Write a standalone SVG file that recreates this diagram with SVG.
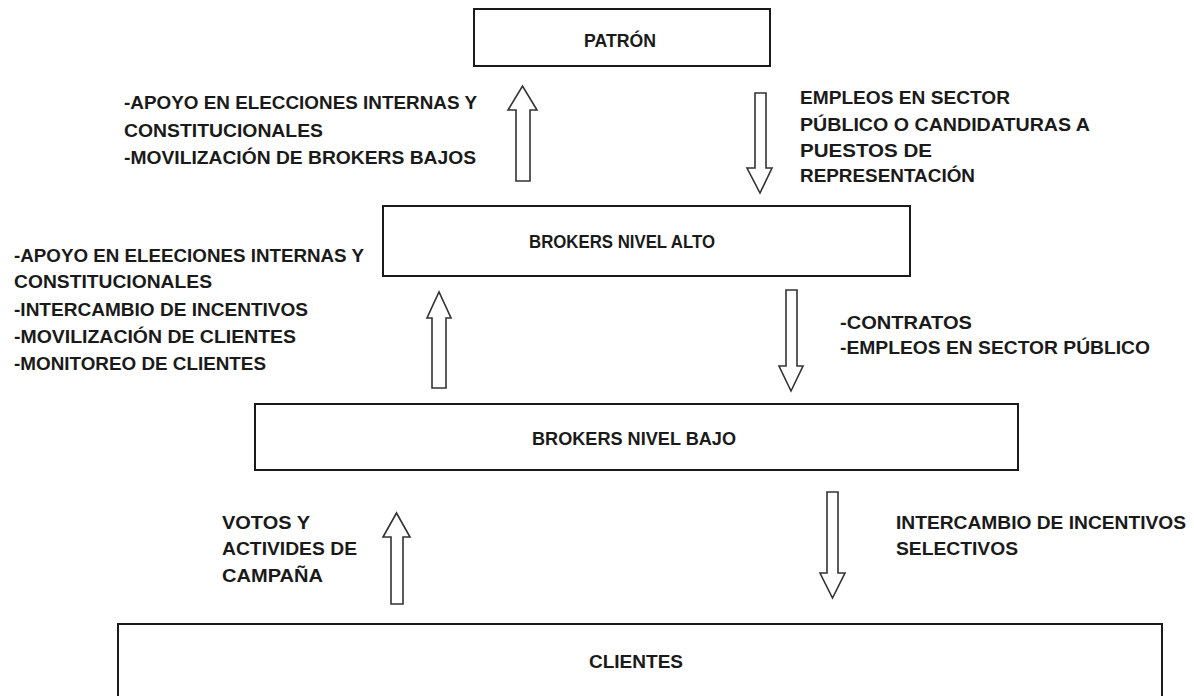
<svg xmlns="http://www.w3.org/2000/svg" width="1194" height="696" viewBox="0 0 1194 696">
<style>
.box{fill:#fff;stroke:#1a1a1a;stroke-width:2}
.arr{fill:#fff;stroke:#333;stroke-width:1.6;stroke-linejoin:miter}
.lbl{font-family:"Liberation Sans",Arial,sans-serif;font-weight:bold;font-size:19px;fill:#1a1a1a}
.bx{font-family:"Liberation Sans",Arial,sans-serif;font-weight:bold;font-size:19px;fill:#1a1a1a;text-anchor:middle}
</style>
<rect width="1194" height="696" fill="#fff"/>
<g id="patron"><rect class="box" x="474" y="9" width="296" height="57"/><text class="bx" x="620" y="47" textLength="72" lengthAdjust="spacingAndGlyphs">PATRÓN</text></g>
<g id="brokers-alto"><rect class="box" x="383" y="206" width="527" height="70"/><text class="bx" x="622" y="248" textLength="186" lengthAdjust="spacingAndGlyphs">BROKERS NIVEL ALTO</text></g>
<g id="brokers-bajo"><rect class="box" x="255" y="404" width="763" height="66"/><text class="bx" x="634" y="445" textLength="204" lengthAdjust="spacingAndGlyphs">BROKERS NIVEL BAJO</text></g>
<g id="clientes"><rect class="box" x="118" y="624" width="1044" height="80"/><text class="bx" x="636" y="668" textLength="94" lengthAdjust="spacingAndGlyphs">CLIENTES</text></g>
<g id="connectors">
<polygon class="arr" points="516,181 516,110 508,110 522.5,86 537,110 530,110 530,181 516,181"/>
<polygon class="arr" points="755,93 766,93 766,168 772,168 760,193 747,168 755,168"/>
<polygon class="arr" points="432,388 432,318 427,318 439,292 451,318 446,318 446,388"/>
<polygon class="arr" points="786,290 797,290 797,366 803,366 791,391 779,366 786,366"/>
<polygon class="arr" points="391,604 391,537 383,537 396.5,513 410,537 403,537 403,604"/>
<polygon class="arr" points="827,492 838,492 838,573 845,573 832.5,598 820,573 827,573"/>
</g>
<g id="labels">
<text class="lbl" x="124" y="109" textLength="353" lengthAdjust="spacingAndGlyphs">-APOYO EN ELECCIONES INTERNAS Y</text>
<text class="lbl" x="124" y="137" textLength="199" lengthAdjust="spacingAndGlyphs">CONSTITUCIONALES</text>
<text class="lbl" x="124" y="164" textLength="352" lengthAdjust="spacingAndGlyphs">-MOVILIZACIÓN DE BROKERS BAJOS</text>
<text class="lbl" x="800" y="104" textLength="210" lengthAdjust="spacingAndGlyphs">EMPLEOS EN SECTOR</text>
<text class="lbl" x="800" y="131" textLength="290" lengthAdjust="spacingAndGlyphs">PÚBLICO O CANDIDATURAS A</text>
<text class="lbl" x="800" y="157" textLength="132" lengthAdjust="spacingAndGlyphs">PUESTOS DE</text>
<text class="lbl" x="800" y="182" textLength="175" lengthAdjust="spacingAndGlyphs">REPRESENTACIÓN</text>
<text class="lbl" x="14" y="262" textLength="350" lengthAdjust="spacingAndGlyphs">-APOYO EN ELEECIONES INTERNAS Y</text>
<text class="lbl" x="14" y="288" textLength="198" lengthAdjust="spacingAndGlyphs">CONSTITUCIONALES</text>
<text class="lbl" x="14" y="316" textLength="294" lengthAdjust="spacingAndGlyphs">-INTERCAMBIO DE INCENTIVOS</text>
<text class="lbl" x="14" y="343" textLength="282" lengthAdjust="spacingAndGlyphs">-MOVILIZACIÓN DE CLIENTES</text>
<text class="lbl" x="14" y="370" textLength="252" lengthAdjust="spacingAndGlyphs">-MONITOREO DE CLIENTES</text>
<text class="lbl" x="840" y="329" textLength="132" lengthAdjust="spacingAndGlyphs">-CONTRATOS</text>
<text class="lbl" x="840" y="354" textLength="310" lengthAdjust="spacingAndGlyphs">-EMPLEOS EN SECTOR PÚBLICO</text>
<text class="lbl" x="222" y="529" textLength="88" lengthAdjust="spacingAndGlyphs">VOTOS Y</text>
<text class="lbl" x="222" y="555" textLength="135" lengthAdjust="spacingAndGlyphs">ACTIVIDES DE</text>
<text class="lbl" x="222" y="582" textLength="101" lengthAdjust="spacingAndGlyphs">CAMPAÑA</text>
<text class="lbl" x="896" y="529" textLength="290" lengthAdjust="spacingAndGlyphs">INTERCAMBIO DE INCENTIVOS</text>
<text class="lbl" x="896" y="555" textLength="122" lengthAdjust="spacingAndGlyphs">SELECTIVOS</text>
</g>
</svg>
